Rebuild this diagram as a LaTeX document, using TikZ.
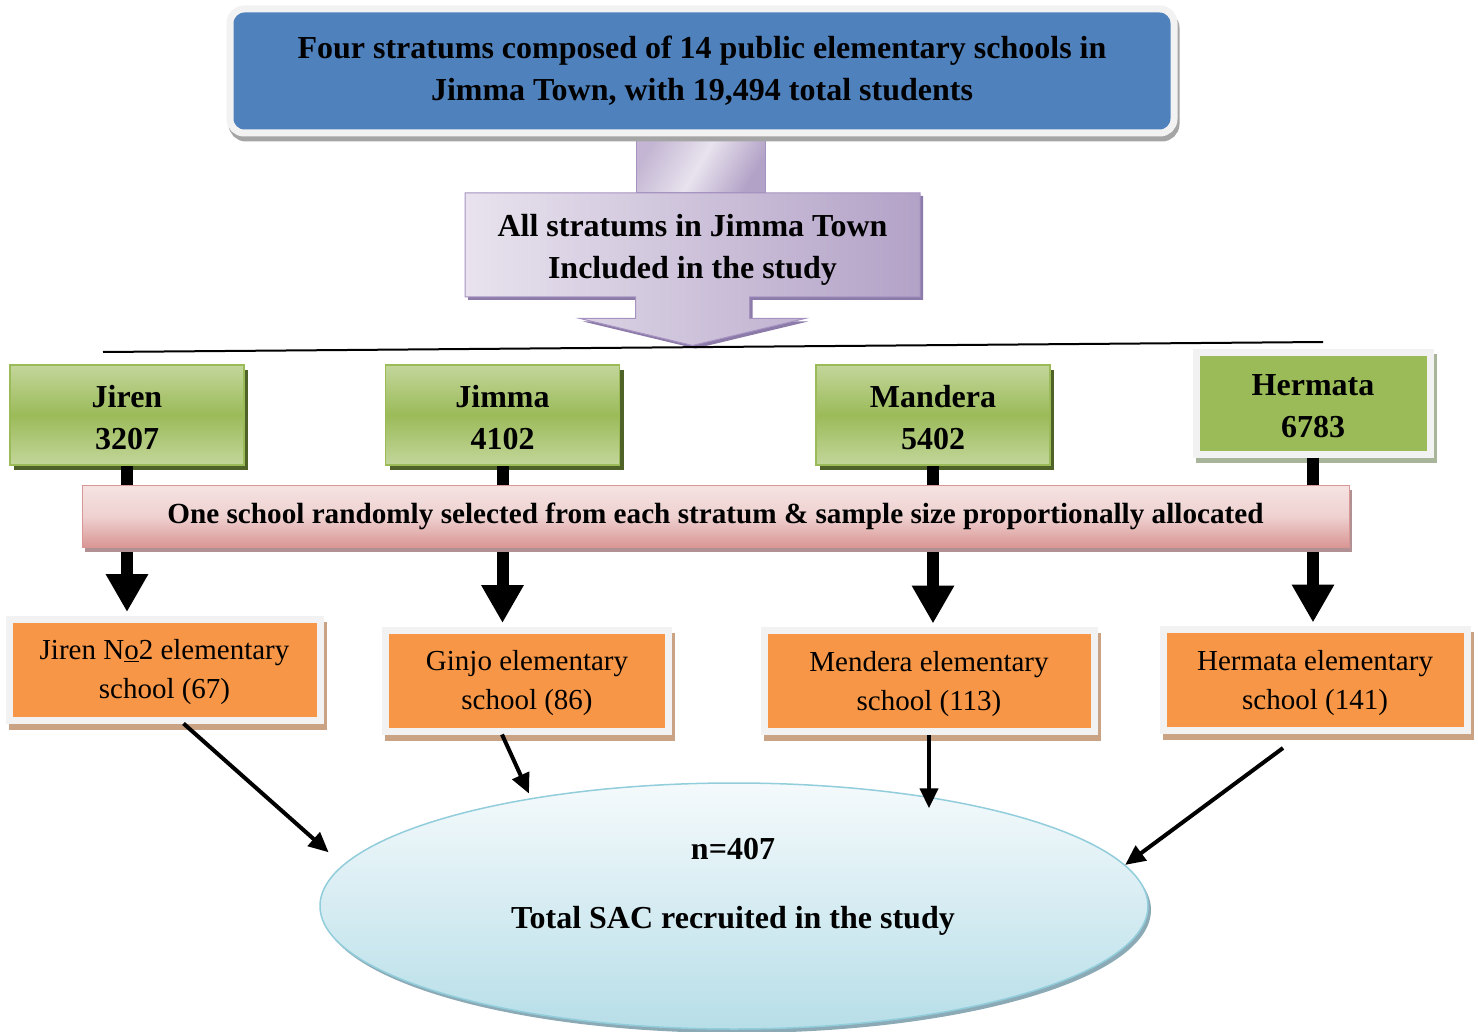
\documentclass[tikz,border=0pt]{standalone}
\usepackage{fontspec}
\setmainfont{Liberation Serif}
\usetikzlibrary{arrows.meta,shapes,shapes.arrows,shadows,positioning}

\definecolor{topblue}{HTML}{4F81BD}
\definecolor{framegrey}{HTML}{F2F2F2}
\definecolor{boxshadow}{HTML}{A5A5A5}
\definecolor{lilaclight}{HTML}{E8E3EE}
\definecolor{lilacdark}{HTML}{B3A2C7}
\definecolor{lilacline}{HTML}{A592C0}
\definecolor{lilacshadow}{HTML}{8C7AA8}
\definecolor{greenlight}{HTML}{C3D69B}
\definecolor{greenmid}{HTML}{9BBB59}
\definecolor{greenshadow}{HTML}{4F6228}
\definecolor{hermshadow}{HTML}{A8B59A}
\definecolor{rosedark}{HTML}{D99694}
\definecolor{roselight}{HTML}{F2DCDB}
\definecolor{roseshadow}{HTML}{B09092}
\definecolor{schoolorange}{HTML}{F79646}
\definecolor{schoolshadow}{HTML}{C9A384}
\definecolor{poollight}{HTML}{F5FAFC}
\definecolor{pooldark}{HTML}{B7DEE8}
\definecolor{poolline}{HTML}{92CDDC}
\definecolor{poolshadow}{HTML}{8BAAB6}

\begin{document}
\begin{tikzpicture}
[x=1pt, y=-1pt, line width=0.75pt, every node/.style={inner sep=0pt},
bigtext/.style={font=\bfseries\fontsize{32}{42}\selectfont, align=center},
titlebox/.style={rectangle, rounded corners=14pt, fill=topblue, draw=framegrey, line width=7pt, minimum width=944pt, minimum height=124pt, bigtext, drop shadow={shadow xshift=2pt, shadow yshift=-5pt, fill=boxshadow, draw=boxshadow, line width=7pt, opacity=1}},
stem/.style={rectangle, minimum width=129pt, minimum height=62pt, draw=lilacline, line width=1pt, left color=lilacdark!70!lilaclight, right color=lilacdark, middle color=lilaclight, shading angle=60},
callout/.style={arrow box, arrow box arrows={south:48pt}, arrow box shaft width=114pt, arrow box head extend=56pt, arrow box tip angle=153, minimum width=455pt, minimum height=104pt, draw=lilacline, line width=1pt, left color=lilaclight, right color=lilacdark, bigtext, drop shadow={shadow xshift=3pt, shadow yshift=-3pt, fill=lilacshadow, opacity=1}},
stratum/.style={rectangle, minimum width=234pt, minimum height=100pt, draw=greenmid, line width=1.5pt, top color=greenlight, bottom color=greenlight, middle color=greenmid, bigtext, drop shadow={shadow xshift=4pt, shadow yshift=-5pt, fill=greenshadow, opacity=1}},
framedstratum/.style={rectangle, minimum width=234pt, minimum height=102pt, fill=greenmid, draw=framegrey, line width=7pt, bigtext, drop shadow={shadow xshift=3pt, shadow yshift=-5pt, fill=hermshadow, draw=hermshadow, line width=7pt, opacity=1}},
selectbar/.style={rectangle, minimum width=1267pt, minimum height=62pt, draw=rosedark, line width=1pt, top color=roselight!80!white, bottom color=rosedark, middle color=roselight!85!rosedark, font=\bfseries\fontsize{29.2}{39}\selectfont, drop shadow={shadow xshift=3pt, shadow yshift=-5pt, fill=roseshadow, opacity=1}},
school/.style={rectangle, fill=schoolorange, draw=framegrey, line width=7pt, minimum height=101pt, align=center, font=\fontsize{29}{39}\selectfont, drop shadow={shadow xshift=3pt, shadow yshift=-6pt, fill=schoolshadow, draw=schoolshadow, line width=7pt, opacity=1}},
pool/.style={ellipse, minimum width=828pt, minimum height=246pt, draw=poolline, line width=1.5pt, top color=poollight, bottom color=pooldark, drop shadow={shadow xshift=3pt, shadow yshift=-4pt, fill=poolshadow, opacity=1}},
bigflow/.style={line width=12pt, -{Triangle[width=40pt,length=38pt]}, shorten >=3.5pt},
flow/.style={line width=4pt, -{Triangle[width=18pt,length=20pt]}}]

\useasboundingbox (0,0) rectangle (1478,1032);

% population and the block arrow below it
\node[stem] (stem) at (700.5,162) {};
\node[callout] (allstrata) at (692.5,245) {\rule{0pt}{31pt}All stratums in Jimma Town\\Included in the study};
\node[titlebox] (title) at (702,71) {Four stratums composed of 14 public elementary schools in\\Jimma Town, with 19,494 total students};

\coordinate (ruleleft) at (103,352);
\coordinate (ruleright) at (1323,342);
\draw[line width=2pt] (ruleleft) -- (ruleright);

% strata
\node[stratum] (jiren) at (127,415) {\rule{0pt}{27pt}Jiren\\3207};
\node[stratum] (jimma) at (502.5,415) {\rule{0pt}{27pt}Jimma\\4102};
\node[stratum] (mandera) at (933,415) {\rule{0pt}{27pt}Mandera\\5402};
\node[framedstratum] (hermata) at (1313,403) {\rule{0pt}{27pt}Hermata\\6783};

% selected schools
\node[school, minimum width=311pt] (jirenschool) at (164.5,669.5) {\rule{0pt}{26pt}Jiren N\underline{o}2 elementary\\school (67)};
\node[school, minimum width=283pt] (ginjoschool) at (527,680.5) {\rule{0pt}{26pt}Ginjo elementary\\school (86)};
\node[school, minimum width=330pt] (menderaschool) at (929,681) {\rule{0pt}{26pt}Mendera elementary\\school (113)};
\node[school, minimum width=304pt] (hermataschool) at (1315,680) {\rule{0pt}{26pt}Hermata elementary\\school (141)};

\foreach \s/\t in {jiren/jirenschool, jimma/ginjoschool, mandera/menderaschool, hermata/hermataschool}
  \draw[bigflow] (\s) -- (\s |- \t.north);

\node[selectbar] (selection) at (715.5,516) {One school randomly selected from each stratum \& sample size proportionally allocated};

% total sample
\node[pool] (total) at (734,906) {};
\node[bigtext] (totallabel) at (733,887) {n=407\\[27pt]Total SAC recruited in the study};

\draw[flow, shorten >=19pt] ([xshift=19pt]jirenschool.south) -- (total.174);
\draw[flow, shorten >=5pt] ([xshift=-25pt]ginjoschool.south) -- (total.152);
\draw[flow] (menderaschool.south) -- (menderaschool.south |- total.21);
\draw[flow] ([xshift=-32pt, yshift=-14pt]hermataschool.south) -- (total.6);
\end{tikzpicture}
\end{document}
